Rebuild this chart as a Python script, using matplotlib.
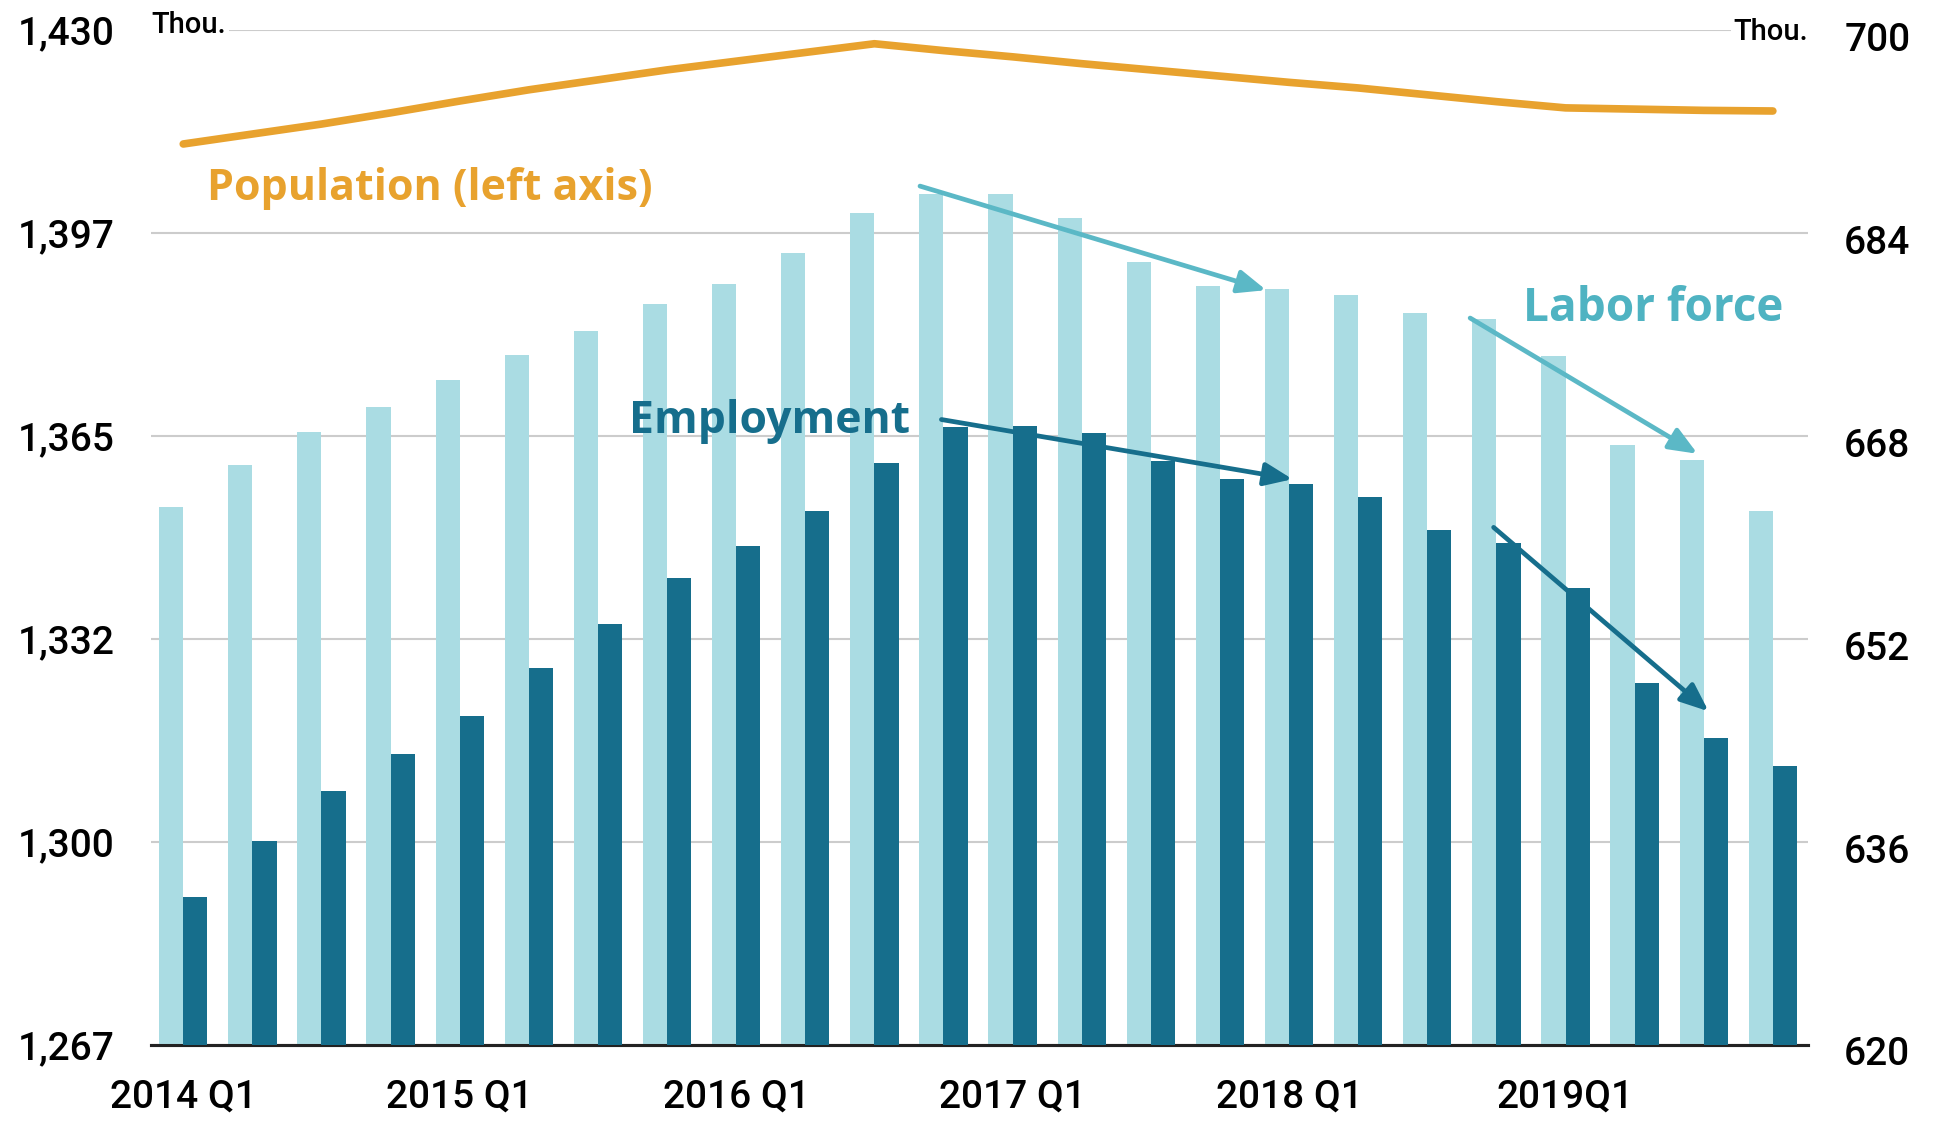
import numpy as np
import matplotlib
matplotlib.use("Agg")
import matplotlib.pyplot as plt
import matplotlib.transforms as mtransforms

plt.rcParams['font.family'] = ['Roboto', 'DejaVu Sans']

# quarterly data, 2014 Q1 .. 2019 Q4 (thousands)
labor_force = [662.4, 665.7, 668.3, 670.3, 672.4, 674.4, 676.3, 678.4, 680.0, 682.4, 685.6, 687.1,
               687.1, 685.2, 681.7, 679.8, 679.6, 679.1, 677.7, 677.2, 674.3, 667.3, 666.1, 662.1]
employment = [631.7, 636.1, 640.0, 642.9, 645.9, 649.7, 653.2, 656.8, 659.3, 662.1, 665.9, 668.7,
              668.8, 668.2, 666.0, 664.6, 664.2, 663.2, 660.6, 659.6, 656.0, 648.5, 644.2, 642.0]
population = [1411.7, 1413.3, 1414.9, 1416.7, 1418.6, 1420.4, 1422.0, 1423.6, 1425.0, 1426.4, 1427.8, 1426.7,
              1425.7, 1424.6, 1423.6, 1422.6, 1421.6, 1420.7, 1419.6, 1418.5, 1417.5, 1417.3, 1417.1, 1417.0]

x_tick_labels = ["2014 Q1", "2015 Q1", "2016 Q1", "2017 Q1", "2018 Q1", "2019Q1"]
left_tick_labels = ["1,267", "1,300", "1,332", "1,365", "1,397", "1,430"]
right_tick_labels = ["620", "636", "652", "668", "684", "700"]

# trend arrows: (start x, start y, end x, end y) on the right axis
light_arrows = [(10.66, 687.7, 15.67, 679.5), (18.62, 677.3, 21.91, 666.6)]
dark_arrows = [(10.97, 669.3, 16.05, 664.6), (18.96, 660.8, 22.07, 646.3)]

ORANGE = '#E8A22E'
LIGHT = '#AADCE3'
DARK = '#166E8C'
LIGHT_TXT = '#4FB3C2'

fig = plt.figure(figsize=(19.34, 11.21), dpi=100)
ax_l = fig.add_axes([0.0781, 0.0678, 0.8568, 0.9054])
ax_r = ax_l.twinx()

n = len(employment)
x = np.arange(n)
w = 0.35

# bars on the right axis
ax_r.bar(x - w / 2, labor_force, width=w, color=LIGHT, zorder=2)
ax_r.bar(x + w / 2, employment, width=w, color=DARK, zorder=3)
ax_r.set_ylim(620, 700)
ax_r.set_yticks(np.linspace(620, 700, 6))
ax_r.set_yticklabels(right_tick_labels)
ax_r.yaxis.grid(True, color='#cccccc', lw=1.5, zorder=0)
ax_r.set_axisbelow(True)

# population line on the left axis
ax_l.plot(x, population, color=ORANGE, lw=5.5, solid_capstyle='round', zorder=4)
ax_l.set_ylim(1267, 1430)
ax_l.set_yticks(np.linspace(1267, 1430, 6))
ax_l.set_yticklabels(left_tick_labels)

ax_l.set_xlim(-0.466, 23.51)
ax_l.set_xticks(x[::4])
ax_l.set_xticklabels(x_tick_labels)

for a in (ax_l, ax_r):
    for s in ('top', 'left', 'right'):
        a.spines[s].set_visible(False)
    a.spines['bottom'].set_color('#222222')
    a.spines['bottom'].set_linewidth(2.2)
    a.tick_params(length=0, labelsize=28, pad=26)
ax_l.tick_params(axis='x', pad=24)
for lab in ax_l.get_xticklabels() + ax_l.get_yticklabels() + ax_r.get_yticklabels():
    lab.set_fontweight('medium')

# right labels sit a little lower in the original
shift = mtransforms.ScaledTranslation(0, -6 / 100, fig.dpi_scale_trans)
for lab in ax_r.get_yticklabels():
    lab.set_transform(lab.get_transform() + shift)

# units
ax_r.text(0.0, 0.997, "Thou.", transform=ax_r.transAxes, ha='left', va='baseline',
          fontsize=21, fontweight='medium',
          bbox=dict(facecolor='white', edgecolor='none', pad=2), zorder=6)
ax_r.text(1.0, 0.99, "Thou.", transform=ax_r.transAxes, ha='right', va='baseline',
          fontsize=21, fontweight='medium',
          bbox=dict(facecolor='white', edgecolor='none', pad=2), zorder=6)

# annotations
for x0, y0, x1, y1 in light_arrows:
    ax_r.annotate("", xy=(x1, y1), xytext=(x0, y0),
                  arrowprops=dict(arrowstyle='-|>,head_length=1.7,head_width=0.7',
                                  color='#5BB8C6', lw=3.4, shrinkA=0, shrinkB=0), zorder=7)
for x0, y0, x1, y1 in dark_arrows:
    ax_r.annotate("", xy=(x1, y1), xytext=(x0, y0),
                  arrowprops=dict(arrowstyle='-|>,head_length=1.7,head_width=0.7',
                                  color=DARK, lw=3.4, shrinkA=0, shrinkB=0), zorder=7)

ax_r.text(0.34, 686.6, "Population (left axis)", color=ORANGE, fontsize=31,
          fontweight='bold', family=['Open Sans', 'DejaVu Sans'], va='baseline', zorder=7)
ax_r.text(6.45, 668.2, "Employment", color=DARK, fontsize=32,
          fontweight='bold', family=['Open Sans', 'DejaVu Sans'], va='baseline', zorder=7)
ax_r.text(19.38, 677.1, "Labor force", color=LIGHT_TXT, fontsize=33,
          fontweight='bold', family=['Open Sans', 'DejaVu Sans'], va='baseline', zorder=7)

fig.savefig("out.png", dpi=100)
